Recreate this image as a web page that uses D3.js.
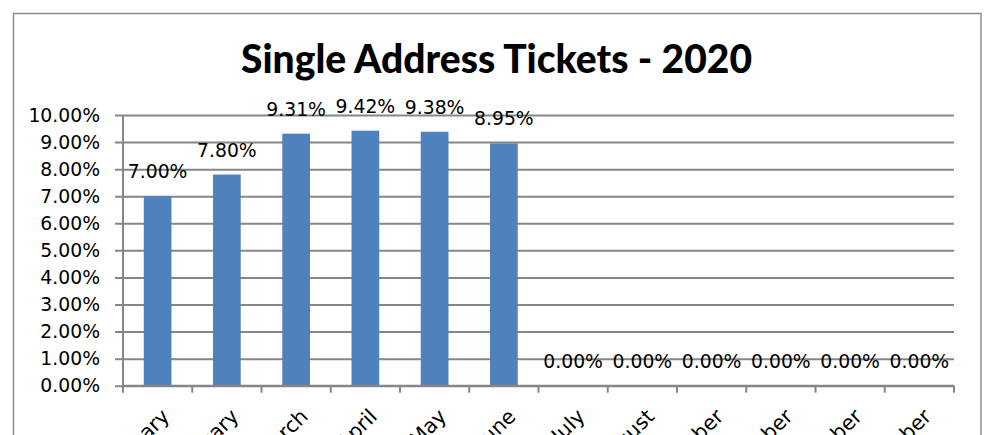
<!DOCTYPE html>
<html>
<head>
<meta charset="utf-8">
<script src="https://cdn.jsdelivr.net/npm/d3@7"></script>
<style>
  html, body { margin: 0; padding: 0; background: #fff; }
  svg { display: block; }
</style>
</head>
<body>
<svg id="chart" width="992" height="435"></svg>
<script>
const title = "Single Address Tickets - 2020";
const categories = ["January", "February", "March", "April", "May", "June",
  "July", "August", "September", "October", "November", "December"];
const values = [0.0700, 0.0780, 0.0931, 0.0942, 0.0938, 0.0895, 0, 0, 0, 0, 0, 0];
const yTicks = [0, 0.01, 0.02, 0.03, 0.04, 0.05, 0.06, 0.07, 0.08, 0.09, 0.10];

const W = 992, H = 435;
const plot = { left: 123, right: 954, top: 115, bottom: 385.7 };
const gridColor = "#868686";
const barColor = "#4f81bd";
const fontFamily = "'DejaVu Sans', sans-serif";
const fs = 18.8;

const svg = d3.select("#chart");
svg.append("rect").attr("width", W).attr("height", H).attr("fill", "#fff");

// outer chart border
svg.append("rect")
  .attr("x", 13.5).attr("y", 13.5)
  .attr("width", 981 - 13.5).attr("height", 460)
  .attr("fill", "none").attr("stroke", "#8c8c8c").attr("stroke-width", 1.5);

// title
svg.append("text")
  .attr("x", (241 + 752) / 2).attr("y", 73)
  .attr("text-anchor", "middle")
  .attr("font-family", "Lato, 'Open Sans', sans-serif")
  .attr("font-weight", 900)
  .attr("font-size", 39)
  .attr("textLength", 511)
  .attr("lengthAdjust", "spacingAndGlyphs")
  .attr("fill", "#000")
  .text(title);

const x = d3.scaleBand().domain(categories).range([plot.left, plot.right]).paddingInner(0.6).paddingOuter(0.3);
const xb = d3.scaleBand().domain(categories).range([plot.left, plot.right]);
const y = d3.scaleLinear().domain([0, 0.10]).range([plot.bottom, plot.top]);

// gridlines + y axis
const yAxis = d3.axisLeft(y).tickValues(yTicks).tickFormat(d3.format(".2%"))
  .tickSize(-(plot.right - plot.left)).tickPadding(15);
const gy = svg.append("g").attr("transform", `translate(${plot.left},0)`).call(yAxis);
gy.select(".domain").remove();
gy.selectAll(".tick line")
  .attr("x1", -8)
  .attr("stroke", gridColor).attr("stroke-width", 2);
gy.selectAll(".tick text")
  .attr("x", -23)
  .attr("font-family", fontFamily).attr("font-size", fs).attr("fill", "#000");

// y axis line
svg.append("line")
  .attr("x1", plot.left).attr("x2", plot.left)
  .attr("y1", plot.top).attr("y2", plot.bottom)
  .attr("stroke", gridColor).attr("stroke-width", 2);

// bars
svg.append("g").selectAll("rect").data(categories).join("rect")
  .attr("x", (d) => x(d))
  .attr("width", x.bandwidth())
  .attr("y", (d, i) => y(values[i]))
  .attr("height", (d, i) => plot.bottom - y(values[i]))
  .attr("fill", barColor);

// x axis
const xAxis = d3.axisBottom(xb).tickSize(0).tickFormat("");
const gx = svg.append("g").attr("transform", `translate(0,${plot.bottom})`).call(xAxis);
gx.select(".domain").remove();
svg.append("line")
  .attr("x1", plot.left).attr("x2", plot.right)
  .attr("y1", plot.bottom).attr("y2", plot.bottom)
  .attr("stroke", gridColor).attr("stroke-width", 2);
const boundaries = categories.map((c) => xb(c)).concat([plot.right]);
svg.append("g").selectAll("line").data(boundaries).join("line")
  .attr("x1", (d) => d).attr("x2", (d) => d)
  .attr("y1", plot.bottom).attr("y2", plot.bottom + 7)
  .attr("stroke", gridColor).attr("stroke-width", 2);

// rotated category labels
svg.append("g").selectAll("text").data(categories).join("text")
  .attr("transform", (d) => `translate(${xb(d) + xb.bandwidth() / 2 + 13},${plot.bottom + 32}) rotate(-45)`)
  .attr("text-anchor", "end")
  .attr("font-family", fontFamily).attr("font-size", 20.5).attr("fill", "#000")
  .text((d) => d);

// data labels
svg.append("g").selectAll("text").data(categories).join("text")
  .attr("x", (d) => xb(d) + xb.bandwidth() / 2)
  .attr("y", (d, i) => y(values[i]) - 18)
  .attr("text-anchor", "middle")
  .attr("font-family", fontFamily).attr("font-size", fs).attr("fill", "#000")
  .text((d, i) => d3.format(".2%")(values[i]));
</script>
</body>
</html>
